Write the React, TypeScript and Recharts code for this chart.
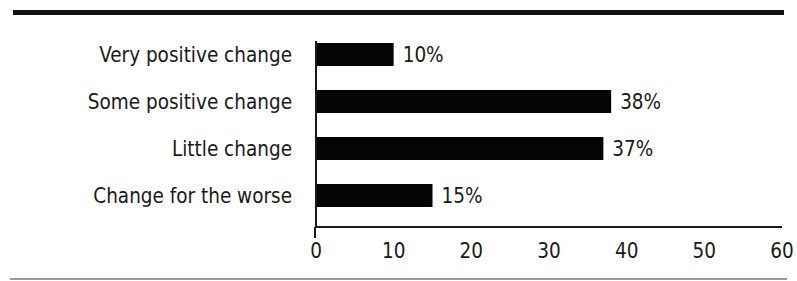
import { BarChart, Bar, XAxis, YAxis, LabelList } from 'recharts'

const categories = ['Very positive change', 'Some positive change', 'Little change', 'Change for the worse']
const shares = [10, 38, 37, 15]
const xTicks = [0, 10, 20, 30, 40, 50, 60]

const data = categories.map((name, i) => ({ name, value: shares[i] }))

const FONT = '"Liberation Sans Narrow", "DejaVu Sans Condensed", "Roboto Condensed", sans-serif'
const INK = '#1a1a1a'
const FS = 20.5

function XTick(props: any) {
  const { x, y, payload } = props
  return (
    <g>
      {payload.value === 0 && <line x1={x - 1} x2={x - 1} y1={y - 11} y2={y} stroke={INK} strokeWidth={2} />}
      <text x={x} y={y + 20} textAnchor="middle" fill={INK} fontSize={FS} fontFamily={FONT}>
        {payload.value}
      </text>
    </g>
  )
}

export default function App() {
  return (
    <div style={{ position: 'absolute', left: 0, top: 0, width: 797, height: 281, background: '#fff' }}>
      {/* top rule */}
      <div style={{ position: 'absolute', left: 13, top: 10, width: 771, height: 5, background: '#111' }} />
      {/* bottom rule */}
      <div style={{ position: 'absolute', left: 10, top: 278, width: 777, height: 2, background: '#999' }} />
      <BarChart
        width={797}
        height={281}
        data={data}
        layout="vertical"
        margin={{ top: 41, right: 15, bottom: 14, left: 0 }}
        barCategoryGap={0}
      >
        <XAxis
          type="number"
          domain={[0, 60]}
          ticks={xTicks}
          axisLine={{ stroke: INK, strokeWidth: 2 }}
          tickLine={false}
          tickSize={11}
          tickMargin={0}
          height={40}
          tick={<XTick />}
        />
        <YAxis
          type="category"
          dataKey="name"
          width={316}
          padding={{ top: -10, bottom: 8 }}
          axisLine={{ stroke: INK, strokeWidth: 2 }}
          tickLine={false}
          tickSize={0}
          tickMargin={24}
          tick={{ fill: INK, fontSize: FS, fontFamily: FONT }}
        />
        <Bar dataKey="value" fill="#050505" barSize={23} isAnimationActive={false}>
          <LabelList
            dataKey="value"
            position="right"
            offset={9}
            formatter={(v: any) => `${v}%`}
            fill={INK}
            fontSize={FS}
            fontFamily={FONT}
          />
        </Bar>
      </BarChart>
    </div>
  )
}
